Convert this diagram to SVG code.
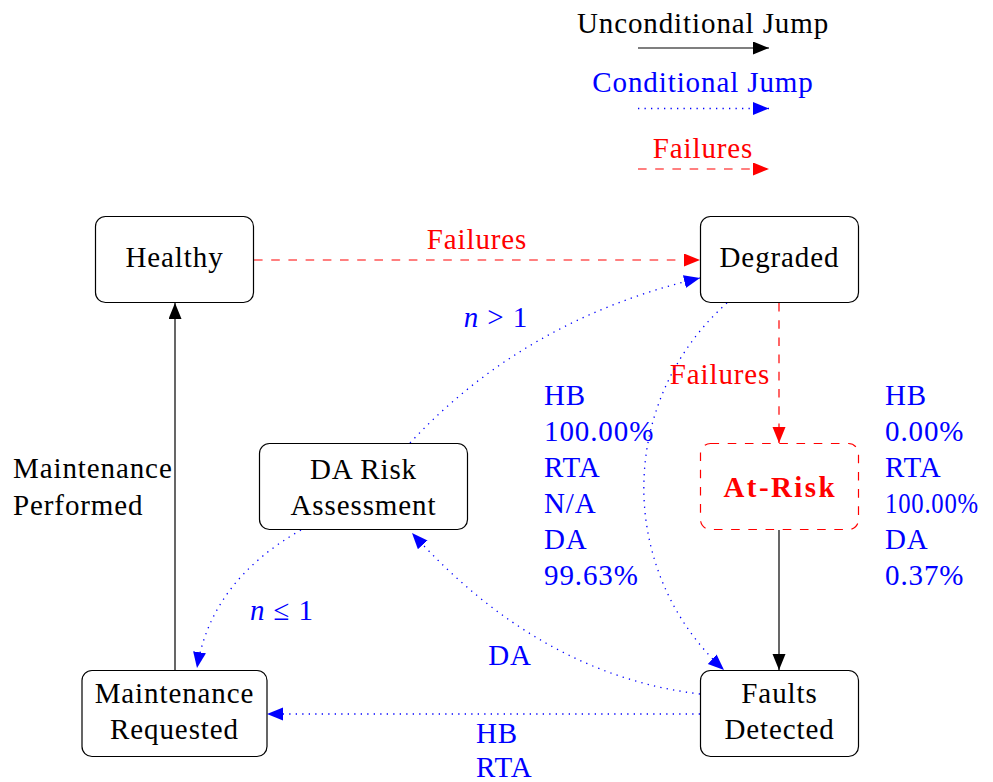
<svg xmlns="http://www.w3.org/2000/svg" width="993" height="782" viewBox="0 0 993 782">
<style>
text{font-family:"Liberation Serif","Times New Roman",serif;font-size:29px;letter-spacing:0.9px}
.c{text-anchor:middle}
.k{fill:#000}
.b{fill:#0000ff}
.r{fill:#ff0000}
.box{fill:#fff;stroke:#000;stroke-width:1.2}
.rbox{fill:#fff;stroke:#ff0000;stroke-width:1.2;stroke-dasharray:8.6 8.6}
.solid{fill:none;stroke:#000;stroke-width:1.2}
.dot{fill:none;stroke:#0000ff;stroke-width:1.3;stroke-dasharray:1.3 5.2}
.dash{fill:none;stroke:#ff0000;stroke-width:1.2;stroke-dasharray:8.6 8.6}
.it{font-style:italic}
</style>
<defs>
<marker id="ak" markerUnits="userSpaceOnUse" markerWidth="17" markerHeight="14" refX="16" refY="6.5" orient="auto"><path d="M0,0 L16,6.5 L0,13 z" fill="#000"/></marker>
<marker id="ab" markerUnits="userSpaceOnUse" markerWidth="17" markerHeight="14" refX="16" refY="6.5" orient="auto"><path d="M0,0 L16,6.5 L0,13 z" fill="#0000ff"/></marker>
<marker id="ar" markerUnits="userSpaceOnUse" markerWidth="17" markerHeight="14" refX="16" refY="6.5" orient="auto"><path d="M0,0 L16,6.5 L0,13 z" fill="#ff0000"/></marker>
</defs>

<g id="legend">
<text class="c k" x="703" y="33">Unconditional Jump</text>
<path class="solid" d="M638,48 L769,48" marker-end="url(#ak)"/>
<text class="c b" x="703" y="92">Conditional Jump</text>
<path class="dot" d="M638,108.5 L769,108.5" marker-end="url(#ab)"/>
<text class="c r" x="703" y="158">Failures</text>
<path class="dash" d="M638,169 L769,169" marker-end="url(#ar)"/>
</g>

<g id="connectors">
<path class="dash" d="M254,260 L700,260" marker-end="url(#ar)"/>
<text class="c r" x="477" y="249">Failures</text>
<path class="dash" d="M779,303 L779,443" marker-end="url(#ar)"/>
<text class="c r" x="720" y="384">Failures</text>
<path class="solid" d="M779,530 L779,670" marker-end="url(#ak)"/>
<path class="solid" d="M175,670 L175,303" marker-end="url(#ak)"/>
<text class="k" x="13" y="478">Maintenance</text>
<text class="k" x="13" y="515">Performed</text>
<path class="dot" d="M700,714 L267,714" marker-end="url(#ab)"/>
<text class="b" x="476" y="743">HB</text>
<text class="b" x="476" y="777">RTA</text>
<path class="dot" d="M700,694 Q540,675 412,533" marker-end="url(#ab)"/>
<text class="c b" x="510" y="665">DA</text>
<path class="dot" d="M301,530 Q211,581 197,668" marker-end="url(#ab)"/>
<text class="c b" x="282" y="620"><tspan class="it">n</tspan> ≤ 1</text>
<path class="dot" d="M410,443 Q525,319 700,278" marker-end="url(#ab)"/>
<text class="c b" x="496" y="327"><tspan class="it">n</tspan> &gt; 1</text>
<path class="dot" d="M727,303 A247,247 0 0 0 724,670" marker-end="url(#ab)"/>
<text class="b" x="544" y="405">HB</text>
<text class="b" x="544" y="441">100.00%</text>
<text class="b" x="544" y="477">RTA</text>
<text class="b" x="544" y="513">N/A</text>
<text class="b" x="544" y="549">DA</text>
<text class="b" x="544" y="585">99.63%</text>
<text class="b" x="885" y="405">HB</text>
<text class="b" x="885" y="441">0.00%</text>
<text class="b" x="885" y="477">RTA</text>
<text class="b" x="885" y="513" letter-spacing="0" textLength="94" lengthAdjust="spacingAndGlyphs">100.00%</text>
<text class="b" x="885" y="549">DA</text>
<text class="b" x="885" y="585">0.37%</text>
</g>

<g id="healthy">
<rect class="box" x="95.5" y="216.5" width="158" height="86" rx="10"/>
<text class="c k" x="174.5" y="267">Healthy</text>
</g>
<g id="degraded">
<rect class="box" x="700.5" y="216.5" width="158" height="86" rx="10"/>
<text class="c k" x="779.5" y="267">Degraded</text>
</g>
<g id="da-risk">
<rect class="box" x="259.5" y="443.5" width="208" height="86" rx="10"/>
<text class="c k" x="363.5" y="479">DA Risk</text>
<text class="c k" x="363.5" y="515">Assessment</text>
</g>
<g id="at-risk">
<rect class="rbox" x="700.5" y="443.5" width="158" height="86" rx="10"/>
<text class="c r" x="779.5" y="497" font-weight="bold" textLength="112" lengthAdjust="spacing">At-Risk</text>
</g>
<g id="maint-req">
<rect class="box" x="82" y="670.5" width="185" height="86" rx="10"/>
<text class="c k" x="174.5" y="703">Maintenance</text>
<text class="c k" x="174.5" y="739">Requested</text>
</g>
<g id="faults">
<rect class="box" x="700.5" y="670.5" width="158" height="86" rx="10"/>
<text class="c k" x="779.5" y="703">Faults</text>
<text class="c k" x="779.5" y="739">Detected</text>
</g>
</svg>
